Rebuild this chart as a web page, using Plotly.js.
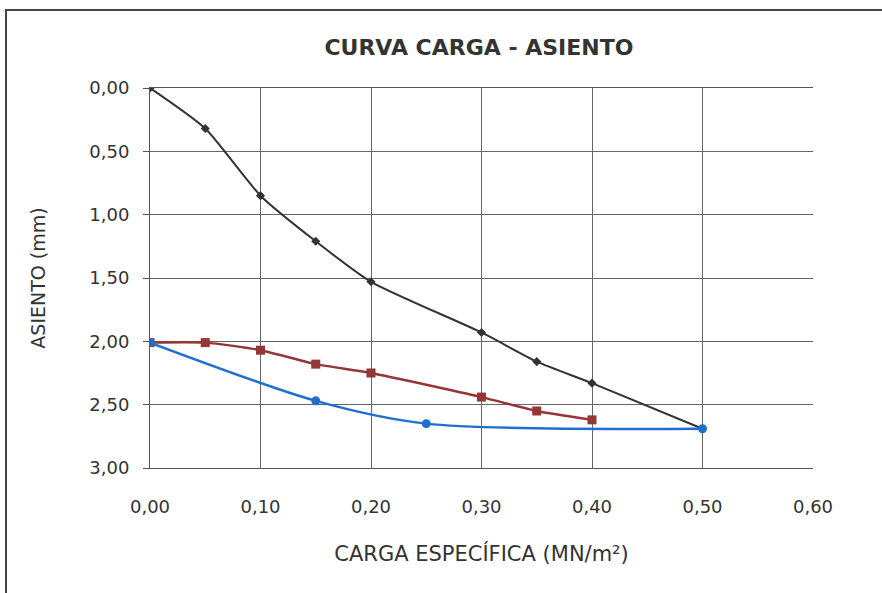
<!DOCTYPE html>
<html><head><meta charset="utf-8">
<script src="https://cdn.plot.ly/plotly-3.0.1.min.js"></script>
<style>
html,body{margin:0;padding:0;background:#fff;}
#wrap{position:relative;width:882px;height:593px;overflow:hidden;}
#frame{position:absolute;left:5px;top:9px;width:900px;height:700px;border-left:2px solid #444;border-top:2px solid #444;box-sizing:border-box;pointer-events:none;}
#chart{position:absolute;left:0;top:0;width:882px;height:593px;}
</style></head>
<body><div id="wrap"><div id="chart"></div><div id="frame"></div></div>
<script>
const xBlack = [0, 0.05, 0.10, 0.15, 0.20, 0.30, 0.35, 0.40, 0.50];
const yBlack = [0, 0.32, 0.85, 1.21, 1.53, 1.93, 2.16, 2.33, 2.69];
const xRed = [0, 0.05, 0.10, 0.15, 0.20, 0.30, 0.35, 0.40];
const yRed = [2.01, 2.01, 2.07, 2.18, 2.25, 2.44, 2.55, 2.62];
const xBlue = [0, 0.15, 0.25, 0.50];
const yBlue = [2.01, 2.47, 2.65, 2.69];
const xTicks = [0, 0.1, 0.2, 0.3, 0.4, 0.5, 0.6];
const xTickText = ['0,00','0,10','0,20','0,30','0,40','0,50','0,60'];
const yTicks = [0, 0.5, 1, 1.5, 2, 2.5, 3];
const yTickText = ['0,00','0,50','1,00','1,50','2,00','2,50','3,00'];

const font = '"DejaVu Sans", sans-serif';
const traces = [
  {x:xBlack, y:yBlack, mode:'lines+markers', line:{color:'#333333', width:2, shape:'spline', smoothing:0.6},
   marker:{symbol:'diamond', size:7, color:'#333333'}},
  {x:xRed, y:yRed, mode:'lines+markers', line:{color:'#943634', width:2.4, shape:'spline', smoothing:0.6},
   marker:{symbol:'square', size:9, color:'#943634'}},
  {x:xBlue, y:yBlue, mode:'lines+markers', line:{color:'#1f6fd0', width:2.4, shape:'spline', smoothing:0.8},
   marker:{symbol:'circle', size:9, color:'#1f6fd0'}}
];
const layout = {
  width:882, height:593, showlegend:false,
  margin:{l:150, r:69, t:88, b:125},
  paper_bgcolor:'#fff', plot_bgcolor:'#fff',
  font:{family:font, color:'#333', size:18},
  title:{text:'<b>CURVA CARGA - ASIENTO</b>', x:0.543, xanchor:'center', y:0.921, yanchor:'middle',
         font:{family:font, size:22, color:'#333'}},
  xaxis:{range:[0,0.6], tickvals:xTicks, ticktext:xTickText, showgrid:true, gridcolor:'#666', gridwidth:1,
         zeroline:false, showline:true, linecolor:'#555', ticks:'', ticklabelstandoff:22,
         mirror:true, tickfont:{size:18, color:'#333'},
         title:{text:'CARGA ESPECÍFICA (MN/m²)', standoff:30, font:{size:21, color:'#333'}}},
  yaxis:{range:[3,0], tickvals:yTicks, ticktext:yTickText, showgrid:true, gridcolor:'#666', gridwidth:1,
         zeroline:false, showline:true, linecolor:'#555', ticks:'outside', ticklen:6, tickcolor:'#555',
         ticklabelstandoff:10, mirror:false, tickfont:{size:18, color:'#333'},
         title:{text:'ASIENTO (mm)', standoff:38, font:{size:19, color:'#333'}}}
};
Plotly.newPlot('chart', traces, layout, {staticPlot:true});
</script></body></html>
